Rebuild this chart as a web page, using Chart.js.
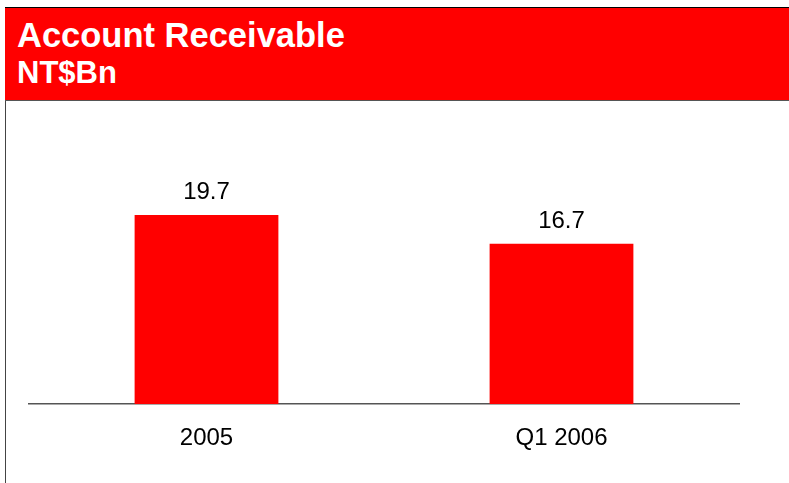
<!DOCTYPE html>
<html>
<head>
<meta charset="utf-8">
<script src="https://cdn.jsdelivr.net/npm/chart.js@4/dist/chart.umd.min.js"></script>
<style>
  html, body { margin: 0; padding: 0; background: #fff; }
  #page { position: relative; width: 789px; height: 483px; overflow: hidden; background: #fff;
          font-family: "Liberation Sans", Arial, sans-serif; }
  #frame { position: absolute; left: 5px; top: 7px; width: 1px; height: 476px; background: #444; }
  #banner { position: absolute; left: 5px; top: 7px; right: 0; height: 92px; background: #ff0000;
            border-top: 1px solid #000; border-bottom: 1px solid #555; }
  .ttl { position: absolute; left: 17px; color: #fff; font-weight: bold; line-height: 1; white-space: nowrap; }
  #t1 { top: 18px; font-size: 34.5px; }
  #t2 { top: 57px; font-size: 31px; }
  #wrap { position: absolute; left: 0; top: 101px; width: 789px; height: 382px; }
</style>
</head>
<body>
<div id="page">
  <div id="frame"></div>
  <div id="banner"></div>
  <div class="ttl" id="t1">Account Receivable</div>
  <div class="ttl" id="t2">NT$Bn</div>
  <div id="wrap"><canvas id="c"></canvas></div>
</div>
<script>
// Accounts receivable, NT$ billions
const categories = ['2005', 'Q1 2006'];
const receivables = [19.7, 16.7];
const valueLabels = receivables.map(v => v.toFixed(1));

// Writes each bar's value just above it
const valueLabelPlugin = {
  id: 'valueLabels',
  afterDatasetsDraw(chart) {
    const ctx = chart.ctx;
    const meta = chart.getDatasetMeta(0);
    ctx.save();
    ctx.font = '24px "Liberation Sans", Arial, sans-serif';
    ctx.fillStyle = '#000';
    ctx.textAlign = 'center';
    ctx.textBaseline = 'alphabetic';
    meta.data.forEach((bar, i) => {
      ctx.fillText(valueLabels[i], bar.x, bar.y - 16);
    });
    ctx.restore();
  }
};

new Chart(document.getElementById('c'), {
  type: 'bar',
  data: {
    labels: categories,
    datasets: [{
      data: receivables,
      backgroundColor: '#ff0000',
      borderWidth: 0,
      categoryPercentage: 1,
      barPercentage: 0.405
    }]
  },
  options: {
    responsive: true,
    maintainAspectRatio: false,
    animation: false,
    layout: { padding: { left: 29, right: 50, top: 63, bottom: 0 } },
    plugins: { legend: { display: false }, tooltip: { enabled: false } },
    scales: {
      x: {
        grid: { display: false, drawTicks: false, tickLength: 0 },
        border: { display: true, color: '#555', width: 1.5 },
        ticks: {
          color: '#000',
          padding: 20,
          font: { family: '"Liberation Sans", Arial, sans-serif', size: 24 }
        },
        afterFit(scale) { scale.height = 79; }
      },
      y: {
        display: false,
        min: 0,
        max: 25
      }
    }
  },
  plugins: [valueLabelPlugin]
});
</script>
</body>
</html>
